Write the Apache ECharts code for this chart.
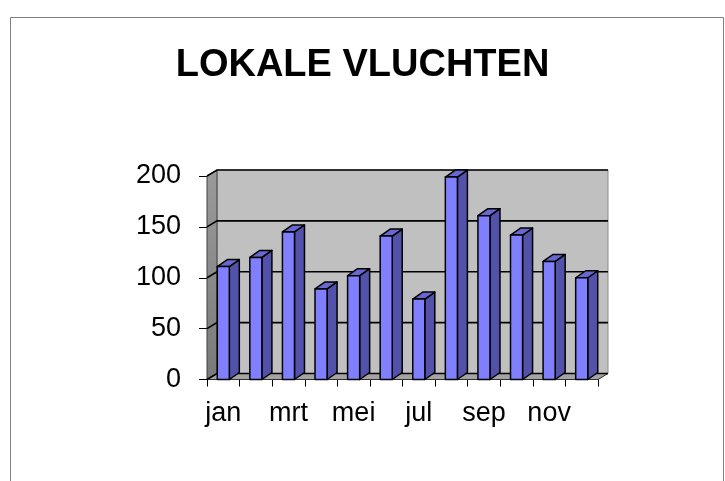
<!DOCTYPE html>
<html><head><meta charset="utf-8">
<script src="https://cdn.jsdelivr.net/npm/echarts@6/dist/echarts.min.js"></script>
<style>html,body{margin:0;padding:0;background:#fff}#c{width:725px;height:481px}</style>
</head><body><div id="c"></div>
<script>
const months = ['jan','feb','mrt','apr','mei','jun','jul','aug','sep','okt','nov','dec'];
const flights = [111,120,145,89,102,141,79,199,161,142,116,100];
const yTicks = [0,50,100,150,200];
const titleText = 'LOKALE VLUCHTEN';

const DX = 10, DY = 6;    // wall depth offset
const BDX = 10, BDY = 7;  // bar depth offset
const FONT = 'Liberation Sans, Arial, sans-serif';

const chart = echarts.init(document.getElementById('c'), null, {renderer: 'canvas'});

function wallItem(params, api) {
  const cs = params.coordSys;
  const x0 = cs.x, x1 = cs.x + cs.width, yb = cs.y + cs.height, yt = cs.y;
  const ch = [];
  ch.push({type: 'polygon', shape: {points: [[x0 + DX, yt - DY], [x1 + DX, yt - DY], [x1 + DX, yb - DY], [x0 + DX, yb - DY]]},
    style: {fill: '#c0c0c0', stroke: '#8c8c8c', lineWidth: 1}});
  ch.push({type: 'polygon', shape: {points: [[x0, yt], [x0 + DX, yt - DY], [x0 + DX, yb - DY], [x0, yb]]},
    style: {fill: {type: 'linear', x: 0, y: 0, x2: 0, y2: 1, colorStops: [{offset: 0, color: '#9a9a9a'}, {offset: 1, color: '#7a7a7a'}]}, stroke: '#404040', lineWidth: 1}});
  ch.push({type: 'polygon', shape: {points: [[x0, yb], [x0 + DX, yb - DY], [x1 + DX, yb - DY], [x1, yb]]},
    style: {fill: '#a4a4a4', stroke: '#303030', lineWidth: 1}});
  yTicks.forEach(function (v) {
    const y = api.coord([0, v])[1];
    ch.push({type: 'polyline', shape: {points: [[x0, y], [x0 + DX, y - DY], [x1 + DX, y - DY]]},
      style: {stroke: '#000', lineWidth: 1.6, fill: null}});
  });
  return {type: 'group', children: ch};
}

function barItem(params, api) {
  const c = api.value(0), v = api.value(1);
  const top = api.coord([c, v]), base = api.coord([c, 0]);
  const bw = api.size([1, 0])[0] * 0.37;
  const xl = top[0] - bw / 2, xr = top[0] + bw / 2;
  const yt = top[1], yb = base[1];
  const st = {stroke: '#000', lineWidth: 1.5, lineJoin: 'round'};
  return {type: 'group', children: [
    {type: 'polygon', shape: {points: [[xr, yt], [xr + BDX, yt - BDY], [xr + BDX, yb - BDY], [xr, yb]]}, style: Object.assign({fill: '#5252aa'}, st)},
    {type: 'polygon', shape: {points: [[xl, yt], [xl + BDX, yt - BDY], [xr + BDX, yt - BDY], [xr, yt]]}, style: Object.assign({fill: '#6868d0'}, st)},
    {type: 'rect', shape: {x: xl, y: yt, width: bw, height: yb - yt}, style: Object.assign({fill: '#8080ff'}, st)}
  ]};
}

chart.setOption({
  animation: false,
  backgroundColor: '#ffffff',
  title: {text: titleText, left: 'center', top: 42,
    textStyle: {fontFamily: FONT, fontSize: 38, fontWeight: 'bold', color: '#000'}},
  graphic: [{type: 'rect', shape: {x: 10.5, y: 17.5, width: 713, height: 500}, style: {fill: null, stroke: '#808080', lineWidth: 1}, silent: true}],
  grid: {left: 207, top: 176, width: 391, height: 203.5, containLabel: false, outerBoundsMode: 'none'},
  xAxis: {type: 'category', data: months, boundaryGap: true,
    axisLine: {show: true, lineStyle: {color: '#000', width: 1}},
    axisTick: {show: true, interval: 0, length: 7, lineStyle: {color: '#000', width: 1}},
    axisLabel: {interval: 1, margin: 21, fontSize: 27, fontFamily: FONT, color: '#000'},
    splitLine: {show: false}},
  yAxis: {type: 'value', min: 0, max: 200, interval: 50,
    axisLine: {show: true, lineStyle: {color: '#000', width: 1}},
    axisTick: {show: true, length: 8, lineStyle: {color: '#000', width: 1}},
    axisLabel: {margin: 26, fontSize: 27, fontFamily: FONT, color: '#000'},
    splitLine: {show: false}},
  series: [
    {type: 'custom', name: 'wall', renderItem: wallItem, data: [[0, 0]], clip: false, silent: true, z: 1},
    {type: 'custom', name: 'flights', renderItem: barItem, encode: {x: 0, y: 1},
      data: months.map(function (m, i) { return [i, flights[i]]; }), clip: false, z: 3}
  ]
});
</script>
</body></html>
